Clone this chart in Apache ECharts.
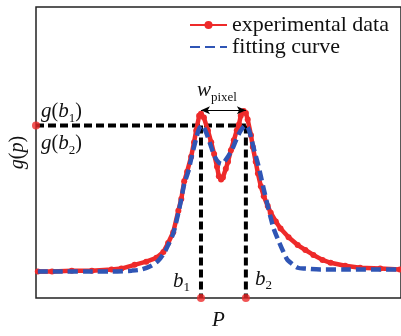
<!DOCTYPE html>
<html><head><meta charset="utf-8">
<script src="https://cdn.jsdelivr.net/npm/echarts@6/dist/echarts.min.js"></script>
<style>html,body{margin:0;padding:0;background:#fff}#c{width:401px;height:336px}</style>
</head><body><div id="c"></div>
<script>
// experimental data (P, g(p)) in normalized units (0-100)
const expX = [0.5,4.4,9.8,15.3,20.7,23.4,27.0,30.2,33.0,34.9,36.2,37.6,39.0,39.8,40.6,41.4,42.5,43.3,43.9,44.7,45.2,46.0,47.1,48.0,48.8,49.6,50.1,50.7,51.2,52.0,52.6,53.4,54.2,55.0,55.6,56.1,56.9,57.5,58.0,58.9,59.4,60.2,60.8,61.6,62.4,63.5,64.3,65.7,67.0,69.2,71.7,73.8,76.0,78.5,80.7,84.7,88.8,94.3,99.7];
const expY = [9.1,9.1,9.4,9.4,9.8,10.1,11.4,12.5,13.8,15.8,18.9,22.6,30.0,34.0,40.1,43.4,48.5,53.5,57.6,62.6,63.3,62.0,57.6,53.5,49.5,45.1,41.8,40.7,41.4,44.4,46.8,50.8,54.2,57.6,59.6,62.6,64.3,63.6,61.3,55.9,51.9,46.8,42.8,38.4,35.0,31.6,29.3,26.3,23.9,20.9,18.2,16.5,14.8,13.1,12.1,11.1,10.4,10.1,9.8];
// fitting curve
const fitX = [0.5,7.1,15.3,20.7,26.2,28.9,31.6,33.5,35.1,36.2,37.6,39.0,39.8,40.6,41.7,42.5,43.9,44.7,45.5,46.6,48.0,49.0,50.1,51.0,52.0,53.4,54.8,56.1,57.5,58.3,58.9,59.9,60.8,61.6,62.4,63.5,64.3,65.1,66.5,67.8,68.9,69.8,71.7,73.8,77.9,86.1,99.7];
const fitY = [9.1,9.1,9.1,9.1,9.4,9.8,11.1,12.8,15.5,18.2,22.2,29.3,34.0,39.1,43.4,47.8,54.9,58.2,59.3,56.9,51.9,48.5,46.5,46.1,47.5,50.2,54.2,57.6,59.3,57.9,55.2,50.2,46.1,41.8,37.4,31.6,27.6,23.9,19.5,15.8,13.1,12.1,10.4,10.1,9.8,9.8,9.8];
const b1 = 45.2, b2 = 57.5, gb = 59.3, arrowY = 64.5;
const seriesNames = ['experimental data', 'fitting curve'];

const SERIF = "'Liberation Serif','DejaVu Serif',serif";
const RED = '#ee2a2a', BLUE = '#2f55b5';
const chart = echarts.init(document.getElementById('c'));
const zip = (a, b) => a.map((v, i) => [v, b[i]]);
const blackDash = {color: '#000', width: 4, type: [8, 4]};

chart.setOption({
  animation: false,
  grid: {left: 34, top: 7, right: -2, bottom: 32, show: true, borderColor: '#222', borderWidth: 1.5},
  legend: {
    data: [seriesNames[0], {name: seriesNames[1], itemStyle: {opacity: 0}}],
    orient: 'vertical', left: 189, top: 14, padding: 0,
    itemWidth: 37, itemHeight: 10, itemGap: 0,
    textStyle: {fontFamily: SERIF, fontSize: 22, lineHeight: 20, color: '#111'}
  },
  xAxis: {
    type: 'value', min: 0, max: 100, name: 'P', nameLocation: 'middle', nameGap: 12,
    nameTextStyle: {fontFamily: SERIF, fontStyle: 'italic', fontSize: 21, color: '#111'},
    axisLine: {show: false}, axisTick: {show: false}, axisLabel: {show: false}, splitLine: {show: false}
  },
  yAxis: {
    type: 'value', min: 0, max: 100, name: '{i|g}(​{i|p})', nameLocation: 'middle', nameGap: 8,
    nameTextStyle: {fontFamily: SERIF, fontSize: 20, color: '#111', rich: {i: {fontFamily: SERIF, fontStyle: 'italic', fontSize: 20}}},
    axisLine: {show: false}, axisTick: {show: false}, axisLabel: {show: false}, splitLine: {show: false}
  },
  series: [
    {type: 'line', data: [[0, gb], [b2, gb]], symbol: 'none', lineStyle: blackDash, z: 1, silent: true},
    {type: 'line', data: [[b1, gb], [b1, 0]], symbol: 'none', lineStyle: blackDash, z: 1, silent: true},
    {type: 'line', data: [[b2, gb], [b2, 0]], symbol: 'none', lineStyle: blackDash, z: 1, silent: true,
      markLine: {silent: true, symbol: ['arrow', 'arrow'], symbolSize: [6, 9], label: {show: false},
        lineStyle: {color: '#000', width: 1, type: 'solid'},
        data: [[{coord: [b1, arrowY]}, {coord: [b2, arrowY]}]]}},
    {name: seriesNames[0], type: 'line', data: zip(expX, expY), symbol: 'circle', symbolSize: 6, showAllSymbol: true,
      itemStyle: {color: RED}, lineStyle: {color: RED, width: 4.5}, z: 2},
    {name: seriesNames[1], type: 'line', data: zip(fitX, fitY), symbol: 'none', smooth: 0.3,
      itemStyle: {color: BLUE}, lineStyle: {color: BLUE, width: 4.5, type: [10, 5]}, z: 3},
    {type: 'scatter', data: [[0, gb], [b1, 0], [b2, 0]], symbolSize: 8, itemStyle: {color: RED}, z: 4, clip: false}
  ]
});

const px = (x, y) => chart.convertToPixel({gridIndex: 0}, [x, y]);
const rich = {
  i: {fontFamily: SERIF, fontStyle: 'italic', fontSize: 21, color: '#111'},
  n: {fontFamily: SERIF, fontSize: 20, color: '#111'},
  s: {fontFamily: SERIF, fontSize: 13, color: '#111', verticalAlign: 'bottom', padding: [0, 0, -3, 0]}
};
function label(x, y, text) {
  return {type: 'text', x: x, y: y, z: 10, style: {text: text, rich: rich, fontFamily: SERIF, fontSize: 20, fill: '#111', verticalAlign: 'middle'}};
}
const pG = px(0, gb), pB1 = px(b1, 0), pB2 = px(b2, 0), pA = px(b1, arrowY);
chart.setOption({
  graphic: [
    label(pG[0] + 5, pG[1] - 14, '{i|g}{n|(}{i|b}{s|1}{n|)}'),
    label(pG[0] + 5, pG[1] + 18, '{i|g}{n|(}{i|b}{s|2}{n|)}'),
    label(pB1[0] - 28, pB1[1] - 17, '{i|b}{s|1}'),
    label(pB2[0] + 9, pB2[1] - 19, '{i|b}{s|2}'),
    label(pA[0] - 4, pA[1] - 20, '{i|w}{s|pixel}')
  ]
});
</script></body></html>
